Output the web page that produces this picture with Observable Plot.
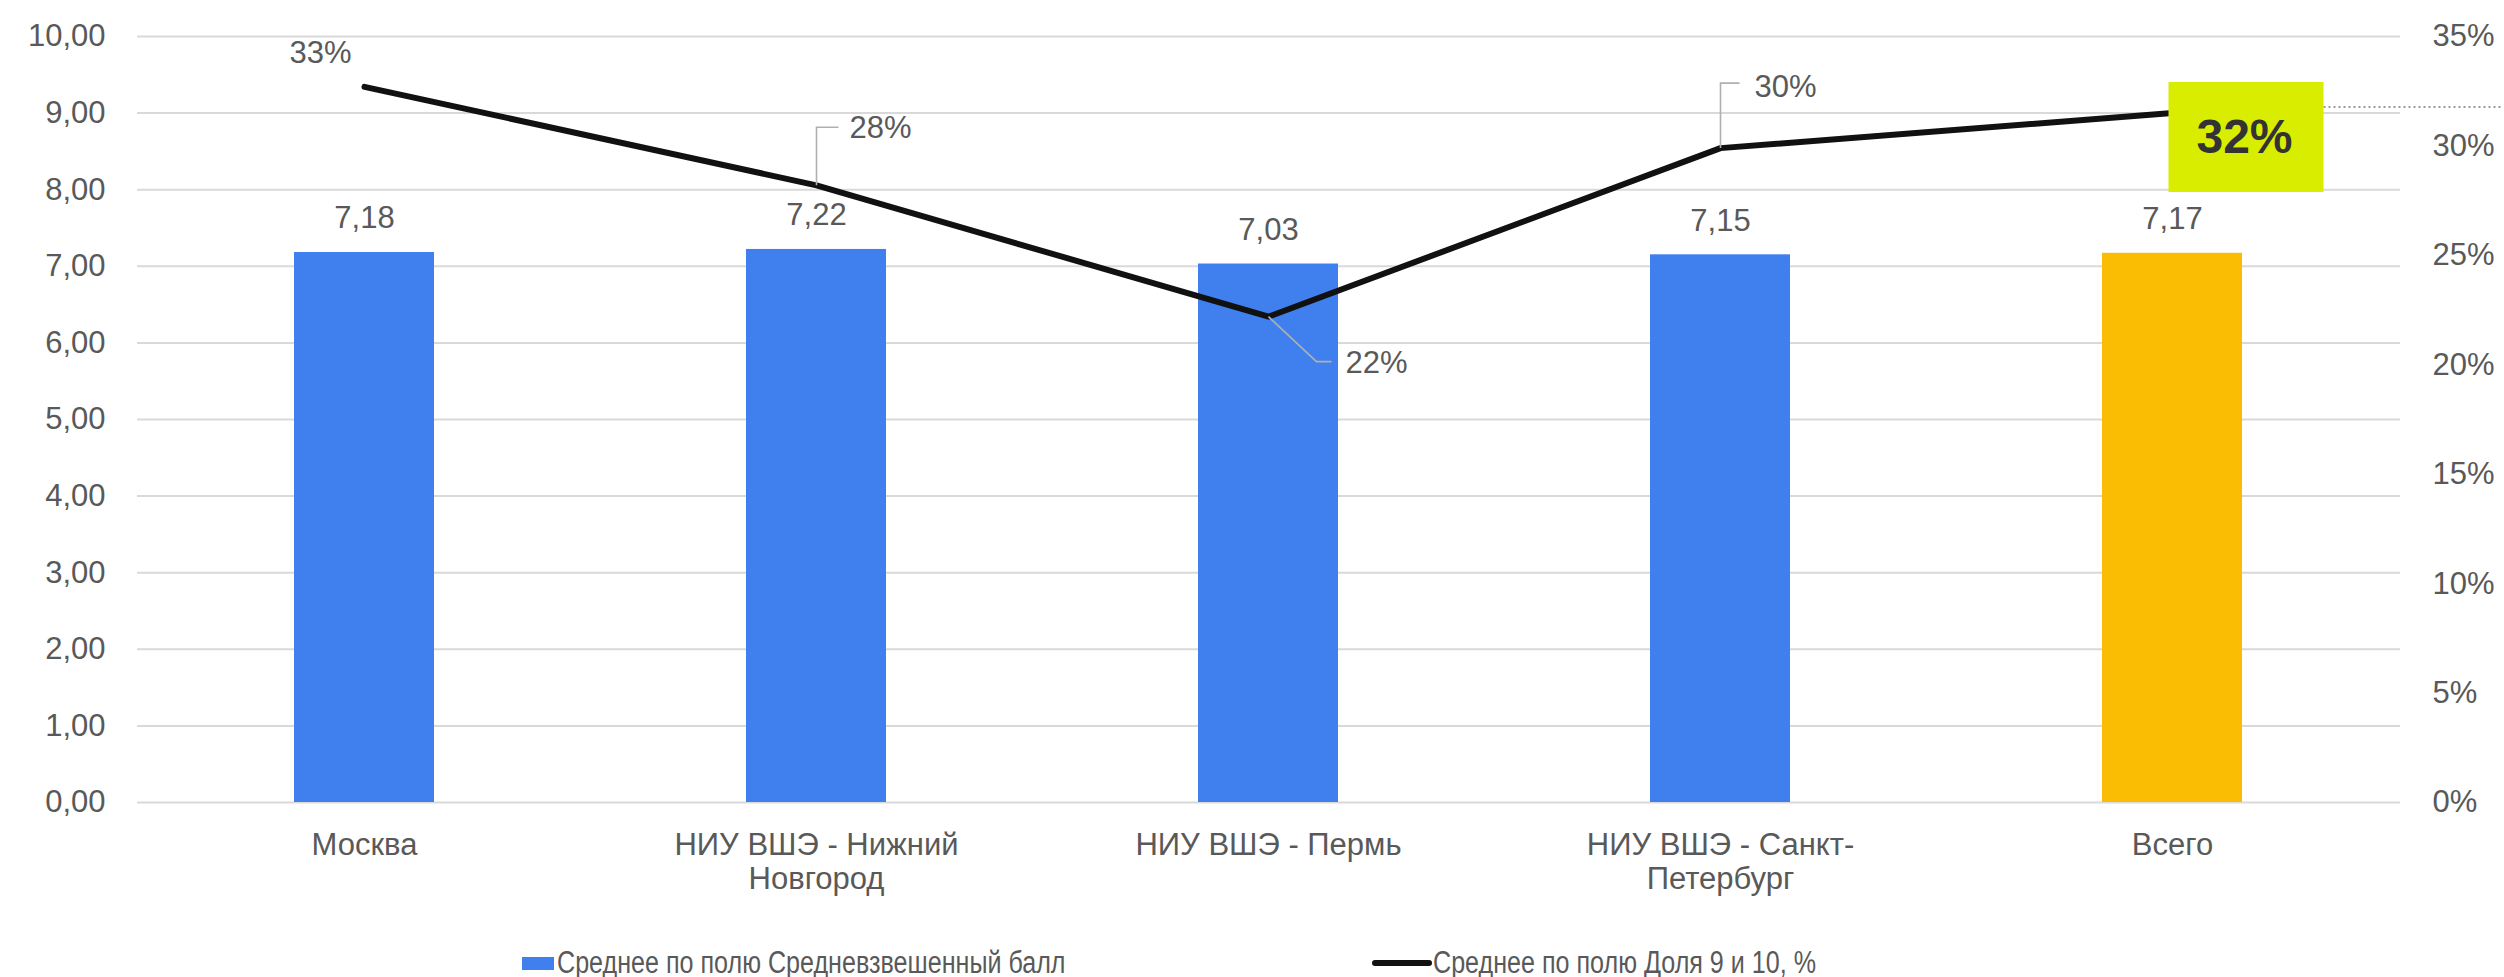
<!DOCTYPE html>
<html><head><meta charset="utf-8">
<script src="https://cdn.jsdelivr.net/npm/d3@7"></script>
<script src="https://cdn.jsdelivr.net/npm/@observablehq/plot@0.6"></script>
<style>
body{margin:0;background:#fff;font-family:"Liberation Sans",Arial,sans-serif;}
#chart svg{overflow:visible;display:block;}
#legend{position:relative;height:34px;margin-top:16px;font-size:31px;color:#595959;white-space:nowrap;}
#legend > *{position:absolute;}
.sw{left:522px;top:11px;width:32px;height:13px;background:#4080ee;}
.ln{left:1372px;top:14px;width:60px;height:6px;border-radius:3px;background:#111;}
.tx{top:0;line-height:34px;transform:scaleX(0.81);transform-origin:0 50%;}
#l1{left:557px;}
#l2{left:1433px;}
</style></head><body>
<div id="chart"></div>
<div id="legend"><span class="sw"></span><span id="l1" class="tx"></span><span class="ln"></span><span id="l2" class="tx"></span></div>
<script>
const categories = ["Москва", "НИУ ВШЭ - Нижний Новгород", "НИУ ВШЭ - Пермь", "НИУ ВШЭ - Санкт-Петербург", "Всего"];
const tickLabels = ["Москва", "НИУ ВШЭ - Нижний\nНовгород", "НИУ ВШЭ - Пермь", "НИУ ВШЭ - Санкт-\nПетербург", "Всего"];
const avgScore = [7.18, 7.22, 7.03, 7.15, 7.17];
const share = [32.7, 28.2, 22.2, 29.9, 31.5];
const leftTicks = [0, 1, 2, 3, 4, 5, 6, 7, 8, 9, 10];
const rightTicks = [0, 5, 10, 15, 20, 25, 30, 35];
const seriesNames = ["Среднее по полю Средневзвешенный балл", "Среднее по полю Доля 9 и 10, %"];
const totalCategory = "Всего";

document.getElementById("l1").textContent = seriesNames[0];
document.getElementById("l2").textContent = seriesNames[1];

const RATIO = 35 / 10; // right axis max / left axis max
const data = categories.map((c, i) => ({cat: c, score: avgScore[i], share: share[i], s: share[i] / RATIO}));
const labelOf = new Map(categories.map((c, i) => [c, tickLabels[i]]));
const FONT = 31, GREY = "#595959";
const fmt2 = v => v.toFixed(2).replace(".", ",");
const pct = v => Math.round(v) + "%";
const one = c => data.filter(d => d.cat === c);

function pathSymbol(fn) { return {draw(ctx) { fn(ctx); }}; }
function leader(cat, pts) {
  return Plot.dot(one(cat), {x: "cat", y: "s", fill: "none", stroke: "#b0b0b0", strokeWidth: 1.6,
    symbol: pathSymbol(ctx => { ctx.moveTo(0, 0); pts.forEach(p => ctx.lineTo(p[0], p[1])); })});
}
function shareLabel(cat, opts) {
  return Plot.text(one(cat), {x: "cat", y: "s", text: d => pct(d.share), fontSize: FONT, fill: GREY, lineAnchor: "middle", ...opts});
}

const chart = Plot.plot({
  width: 2504, height: 930,
  marginLeft: 137, marginRight: 104, marginTop: 36, marginBottom: 128,
  style: {fontFamily: "'Liberation Sans', Arial, sans-serif", color: GREY, background: "#fff"},
  x: {domain: categories, paddingInner: 0.69, paddingOuter: 0.345, axis: null},
  y: {domain: [0, 10], axis: null},
  marks: [
    Plot.ruleY(leftTicks, {stroke: "#d9d9d9", strokeWidth: 2}),
    Plot.axisY(leftTicks, {anchor: "left", tickSize: 0, tickPadding: 32, fontSize: FONT, tickFormat: fmt2, label: null}),
    Plot.axisY(rightTicks.map(p => p / RATIO), {anchor: "right", tickSize: 0, tickPadding: 32, fontSize: FONT, tickFormat: v => Math.round(v * RATIO) + "%", label: null}),
    Plot.axisX({anchor: "bottom", tickSize: 0, tickPadding: 28, fontSize: FONT, lineHeight: 1.1, tickFormat: c => labelOf.get(c), label: null}),
    Plot.barY(data.filter(d => d.cat !== totalCategory), {x: "cat", y: "score", fill: "#4080ee"}),
    Plot.barY(one(totalCategory), {x: "cat", y: "score", fill: "#fbbc04"}),
    Plot.text(data, {x: "cat", y: "score", text: d => fmt2(d.score), dy: -34, fontSize: FONT, fill: GREY, lineAnchor: "middle"}),
    Plot.line(data, {x: "cat", y: "s", stroke: "#111", strokeWidth: 6, strokeLinejoin: "miter"}),
    leader(categories[1], [[0, -58], [22, -58]]),
    leader(categories[2], [[48, 45], [63, 45]]),
    leader(categories[3], [[0, -65], [19, -65]]),
    shareLabel(categories[0], {dx: -44, dy: -34, textAnchor: "middle"}),
    shareLabel(categories[1], {dx: 33, dy: -57, textAnchor: "start"}),
    shareLabel(categories[2], {dx: 77, dy: 46, textAnchor: "start"}),
    shareLabel(categories[3], {dx: 34, dy: -61, textAnchor: "start"}),
    Plot.dot(one(totalCategory), {x: "cat", y: "s", fill: "none", stroke: "#7a7a7a", strokeWidth: 1.5, strokeDasharray: "2,3",
      symbol: pathSymbol(ctx => { ctx.moveTo(151, -6); ctx.lineTo(330, -6); })}),
    Plot.dot(one(totalCategory), {x: "cat", y: "s", fill: "#d9ed00", stroke: "none",
      symbol: pathSymbol(ctx => { ctx.rect(-4, -31, 155, 110); })}),
    Plot.text(one(totalCategory), {x: "cat", y: "s", text: d => pct(d.share), dx: 72, dy: 25, fontSize: 48, fontWeight: "bold", fill: "#333", lineAnchor: "middle"})
  ]
});
document.getElementById("chart").appendChild(chart);
</script>
</body></html>
